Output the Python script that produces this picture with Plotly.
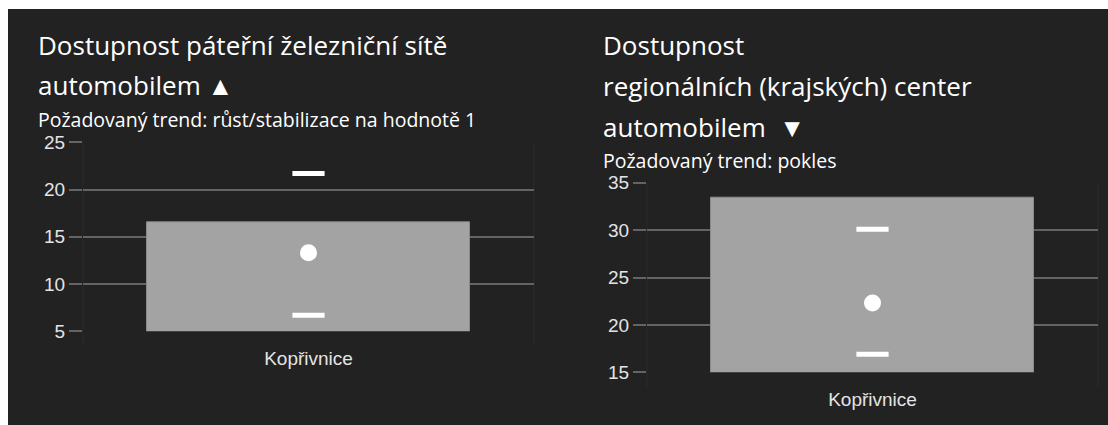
import plotly.graph_objects as go

# ---------------- data ----------------
categories = ["Kopřivnice"]

left_bar = [16.5]
left_dot = [13.3]
left_upper = [21.7]
left_lower = [6.7]

right_bar = [33.4]
right_dot = [22.3]
right_upper = [30.1]
right_lower = [16.9]

left_ticks = [5, 10, 15, 20, 25]
right_ticks = [15, 20, 25, 30, 35]

left_title = ["Dostupnost páteřní železniční sítě", "automobilem ▲"]
left_sub = "Požadovaný trend: růst/stabilizace na hodnotě 1"
right_title = ["Dostupnost", "regionálních (krajských) center", "automobilem \u00a0▼"]
right_sub = "Požadovaný trend: pokles"

# ---------------- layout helpers (pixel geometry) ----------------
W, H = 1108, 425


def px(x):
    return x / W


def py(y):
    return 1 - y / H


BG = "#222222"
GRID = "#646464"
BAR = "#a3a3a3"
TICKFONT = dict(family="Liberation Sans, Arial, sans-serif", size=19, color="#e4e4e4")
TITLEFONT = dict(family="Open Sans, sans-serif", size=26, color="#ffffff")
SUBFONT = dict(family="Open Sans, sans-serif", size=19.5, color="#ffffff")

fig = go.Figure()


def add_panel(xa, ya, bar, dot, upper, lower):
    fig.add_trace(go.Bar(x=categories, y=bar, width=0.716,
                         marker=dict(color=BAR, line=dict(color="#8a8a8a", width=1)),
                         xaxis=xa, yaxis=ya, showlegend=False))
    for vals in (upper, lower):
        fig.add_trace(go.Scatter(x=categories, y=vals, mode="markers",
                                 marker=dict(symbol="line-ew", size=23,
                                             line=dict(color="#ffffff", width=5)),
                                 xaxis=xa, yaxis=ya, showlegend=False))
    fig.add_trace(go.Scatter(x=categories, y=dot, mode="markers",
                             marker=dict(symbol="circle", size=17, color="#ffffff"),
                             xaxis=xa, yaxis=ya, showlegend=False))


add_panel("x", "y", left_bar, left_dot, left_upper, left_lower)
add_panel("x2", "y2", right_bar, right_dot, right_upper, right_lower)

common_x = dict(type="category", range=[-0.5, 0.5], showgrid=False, zeroline=False,
                showline=False, ticks="", tickfont=TICKFONT, ticklabelstandoff=14,
                automargin=False, fixedrange=True)
common_y = dict(showgrid=True, gridcolor=GRID, gridwidth=2, zeroline=False,
                showline=False, ticks="outside", ticklen=13, tickcolor=GRID,
                tickwidth=2, tickfont=TICKFONT, automargin=False, fixedrange=True)

fig.update_layout(
    width=W, height=H, autosize=False,
    margin=dict(l=0, r=0, t=0, b=0, pad=0, autoexpand=False),
    paper_bgcolor=BG, plot_bgcolor=BG,
    showlegend=False,
    bargap=0,
    xaxis=dict(domain=[px(83), px(534)], anchor="y", **common_x),
    yaxis=dict(domain=[py(331.3), py(142.3)], anchor="x", range=[left_ticks[0], left_ticks[-1]],
               tickvals=left_ticks, **common_y),
    xaxis2=dict(domain=[px(647), px(1098)], anchor="y2", **common_x),
    yaxis2=dict(domain=[py(372.3), py(182.7)], anchor="x2", range=[right_ticks[0], right_ticks[-1]],
                tickvals=right_ticks, **common_y),
)

# white page strips (top and left)
fig.add_shape(type="rect", xref="paper", yref="paper", x0=0, x1=1, y0=py(9), y1=1,
              fillcolor="#ffffff", line=dict(width=0), layer="below")
fig.add_shape(type="rect", xref="paper", yref="paper", x0=0, x1=px(8), y0=0, y1=1,
              fillcolor="#ffffff", line=dict(width=0), layer="below")

# faint plot-area borders
for x0, ytop, ybot in ((83, 142.3, 345), (534, 142.3, 345), (647, 182.7, 387), (1098, 182.7, 387)):
    fig.add_shape(type="line", xref="paper", yref="paper", x0=px(x0), x1=px(x0),
                  y0=py(ytop), y1=py(ybot), line=dict(color="#2a2a2a", width=1), layer="below")

annotations = []
for text, yc in zip(left_title, (45, 85)):
    annotations.append(dict(text=text, x=px(36), y=py(yc), font=TITLEFONT))
annotations.append(dict(text=left_sub, x=px(36), y=py(119), font=SUBFONT))
for text, yc in zip(right_title, (45, 86, 127)):
    annotations.append(dict(text=text, x=px(601), y=py(yc), font=TITLEFONT))
annotations.append(dict(text=right_sub, x=px(601), y=py(160), font=SUBFONT))
for a in annotations:
    a.update(xref="paper", yref="paper", xanchor="left", yanchor="middle", showarrow=False)
fig.update_layout(annotations=annotations)

fig.write_html("out.html", config=dict(displayModeBar=False),
               post_script="document.body.style.margin='0';document.body.style.overflow='hidden';")
